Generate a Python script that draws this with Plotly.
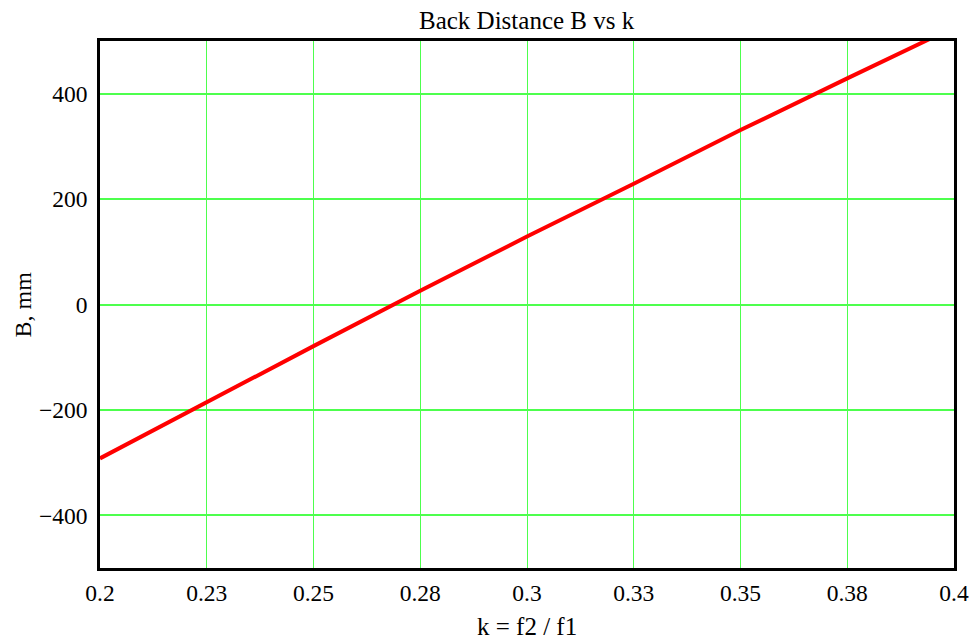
import plotly.graph_objects as go

# data
k_values = [0.2, 0.225, 0.25, 0.275, 0.3, 0.325, 0.35, 0.375, 0.4]
B_values = [-292, -185, -79, 26, 129, 229, 331, 429, 526]

x_tickvals = [0.2, 0.225, 0.25, 0.275, 0.3, 0.325, 0.35, 0.375, 0.4]
x_ticktext = ["0.2", "0.23", "0.25", "0.28", "0.3", "0.33", "0.35", "0.38", "0.4"]
y_tickvals = [-400, -200, 0, 200, 400]

title_text = "Back Distance B vs k"
x_title = "k = f2 / f1"
y_title = "B, mm"

font_family = "Liberation Serif, Times New Roman, serif"
tick_size = 23.5
title_size = 25
grid_color = "#4dff4d"

fig = go.Figure()
fig.add_trace(go.Scatter(
    x=k_values, y=B_values, mode="lines",
    line=dict(color="#ff0000", width=4),
    showlegend=False, hoverinfo="x+y",
))

# the page body adds an 8px offset, so the figure is sized and margined for it
fig.update_layout(
    width=970, height=632,
    paper_bgcolor="white", plot_bgcolor="white",
    margin=dict(l=92, r=24, t=33, b=72),
    font=dict(family=font_family, size=tick_size, color="black"),
    annotations=[
        dict(text=title_text, xref="paper", yref="paper", x=0.5, y=1,
             xanchor="center", yanchor="middle", yshift=21, showarrow=False,
             font=dict(family=font_family, size=title_size)),
        dict(text=x_title, xref="paper", yref="paper", x=0.5, y=0,
             xanchor="center", yanchor="middle", yshift=-58, showarrow=False,
             font=dict(family=font_family, size=title_size)),
        dict(text=y_title, xref="paper", yref="paper", x=0, y=0.5,
             xanchor="center", yanchor="middle", xshift=-78, textangle=-90,
             showarrow=False, font=dict(family=font_family, size=24)),
    ],
)
fig.update_xaxes(
    range=[0.2, 0.4], tickvals=x_tickvals, ticktext=x_ticktext,
    showgrid=True, gridcolor=grid_color, gridwidth=1,
    zeroline=False, showline=True, linecolor="black", linewidth=2.5,
    mirror=True, ticks="", ticklabelstandoff=2, automargin=False,
    tickfont=dict(family=font_family, size=tick_size),
)
fig.update_yaxes(
    range=[-500, 500], tickvals=y_tickvals,
    showgrid=True, gridcolor=grid_color, gridwidth=1.5,
    zeroline=False, showline=True, linecolor="black", linewidth=2.5,
    mirror=True, ticks="", ticklabelstandoff=5, automargin=False,
    tickfont=dict(family=font_family, size=tick_size),
)

fig.write_html("out.html")
